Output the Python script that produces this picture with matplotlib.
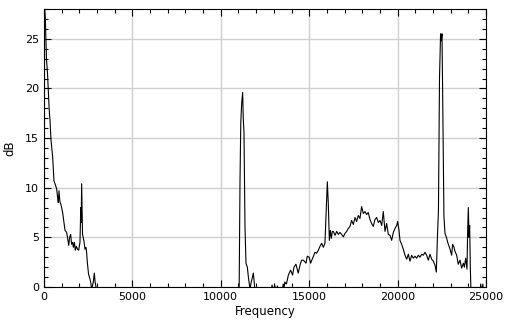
import numpy as np
import matplotlib
matplotlib.use("Agg")
import matplotlib.pyplot as plt
from matplotlib.ticker import MultipleLocator

# Spectrum, one segment at a time (Hz, dB)
freq_low = [0, 40, 80, 100, 140, 200, 245, 290, 340, 396, 440, 490, 565, 640, 716, 770,
            810, 848, 900, 960, 1055, 1131, 1190, 1282, 1340, 1400, 1450, 1508, 1560, 1620,
            1659, 1720, 1770, 1830, 1900, 1961, 2036, 2080, 2105, 2130, 2180, 2262, 2320,
            2375, 2410, 2450, 2520, 2602, 2650, 2696, 2750, 2790, 2847, 2890, 2941, 3000]
db_low = [29.5, 28, 27, 25.5, 23, 21.5, 19.8, 18, 16.8, 14.8, 14, 13.1, 10.7, 10.3, 9.9, 9.0,
          8.5, 9.7, 8.6, 8.3, 7.5, 6.5, 5.7, 5.5, 4.9, 4.2, 5.0, 5.3, 4.3, 4.5,
          4.0, 4.5, 3.7, 4.1, 3.8, 3.7, 4.5, 8.0, 6.5, 10.4, 5.3, 4.6, 3.8,
          4.0, 3.5, 2.5, 1.3, 0.8, 0.4, -0.3, 0.2, 0.5, 1.4, 0.5, 0.0, -3]

freq_gap = [5000, 8000]
db_gap = [-6, -6]

freq_mid = [10980, 11040, 11086, 11130, 11180, 11237, 11270, 11312, 11369, 11425, 11500,
            11560, 11651, 11720, 11780, 11840, 11900, 11991]
db_mid = [-2, 0.2, 10.6, 16.5, 18.5, 19.6, 17.0, 15.5, 6.0, 2.4, 2.0,
          1.0, -0.2, 0.5, 0.9, 1.4, 0.3, -2]

freq_hump = [12800, 12900, 12950, 13050, 13100, 13200, 13300, 13450, 13530, 13570, 13620,
             13700, 13725, 13820, 13950, 14060, 14140, 14250, 14380, 14480, 14570, 14670,
             14820, 14890, 15000, 15080, 15195, 15330, 15420, 15515, 15610, 15705, 15800,
             15890, 15950, 16025, 16080, 16140, 16195, 16250, 16310, 16365, 16460, 16553,
             16650, 16740, 16835, 16930, 17025, 17120, 17210, 17305, 17400, 17495, 17590,
             17680, 17775, 17870, 17965, 18060, 18155, 18250, 18340, 18437, 18530, 18625,
             18720, 18815, 18910, 19004, 19100, 19190, 19287, 19380, 19475, 19570, 19664,
             19758, 19852, 19947, 20003, 20078, 20135, 20230, 20323, 20418, 20512, 20606,
             20700, 20795, 20890, 20983, 21077, 21172, 21266, 21360, 21455, 21550, 21643,
             21737, 21832, 21926, 22020, 22114, 22190]
db_hump = [-1, 0.2, -0.5, 0.2, -0.5, 0.1, -1, -0.5, 0.3, -0.2, 0.5,
           0.3, 0.4, 1.2, 1.7, 1.2, 2.0, 2.3, 1.4, 2.2, 2.7, 2.7,
           2.4, 3.1, 3.0, 2.4, 2.9, 3.5, 3.4, 3.7, 4.1, 4.4, 4.0,
           4.4, 7.1, 10.6, 8.4, 4.7, 5.7, 4.9, 5.6, 5.6, 5.2, 5.6,
           5.3, 5.5, 5.3, 5.05, 5.4, 5.6, 5.9, 6.1, 6.7, 6.3, 7.0,
           6.6, 7.2, 6.9, 8.1, 7.4, 7.6, 7.3, 7.5, 6.8, 6.4, 6.1,
           6.8, 7.0, 6.5, 6.7, 6.2, 7.6, 5.6, 6.4, 5.3, 5.2, 4.7,
           5.5, 5.9, 6.2, 6.6, 5.7, 4.7, 4.3, 3.8, 3.2, 2.8, 3.3,
           2.6, 3.2, 2.9, 3.1, 2.9, 3.2, 3.0, 3.3, 3.2, 3.5, 3.2,
           2.7, 3.3, 2.8, 2.6, 2.2, 1.5]

freq_high = [22250, 22310, 22370, 22430, 22470, 22510, 22540, 22620, 22680, 22760, 22850,
             22950, 23057, 23110, 23190, 23245, 23340, 23430, 23530, 23620, 23720, 23775,
             23850, 23924, 23960, 24000, 24040, 24075, 24112, 24150, 24190, 24600, 24700,
             24770, 24820, 24900, 25000]
db_high = [4.9, 7.7, 21.1, 25.5, 24.8, 25.5, 20.8, 7.1, 5.4, 5.0, 4.4,
           3.9, 3.2, 4.3, 4.0, 3.6, 3.2, 2.3, 2.7, 1.9, 2.4, 2.0,
           2.9, 1.8, 5.5, 8.0, 5.0, 6.2, 2.0, -0.5, -3, -2, 0.3,
           -0.5, 0.3, -2, -3]

freq = np.concatenate([freq_low, freq_gap, freq_mid, freq_hump, freq_high])
db = np.concatenate([db_low, db_gap, db_mid, db_hump, db_high])

plt.rcParams['font.family'] = ['DejaVu Sans']
fig = plt.figure(figsize=(5.05, 3.30), dpi=100)
ax = fig.add_axes([0.0871, 0.1303, 0.8753, 0.8424])

ax.plot(freq, db, color='black', linewidth=0.8)

ax.set_xlim(0, 25000)
ax.set_ylim(0, 28)
ax.xaxis.set_major_locator(MultipleLocator(5000))
ax.xaxis.set_minor_locator(MultipleLocator(1000))
ax.yaxis.set_major_locator(MultipleLocator(5))
ax.yaxis.set_minor_locator(MultipleLocator(1))
ax.grid(True, which='major', color='#d0d0d0', linewidth=1)
ax.set_axisbelow(True)
ax.tick_params(which='both', direction='in', top=True, right=True, labelsize=8,
               colors='black', width=0.8)
ax.tick_params(which='major', length=5)
ax.tick_params(which='minor', length=3)
for s in ax.spines.values():
    s.set_linewidth(0.8)

ax.set_xlabel('Frequency', fontsize=8.5, labelpad=2)
ax.set_ylabel('dB', fontsize=8.5, labelpad=6)

fig.savefig('out.png', dpi=100)
